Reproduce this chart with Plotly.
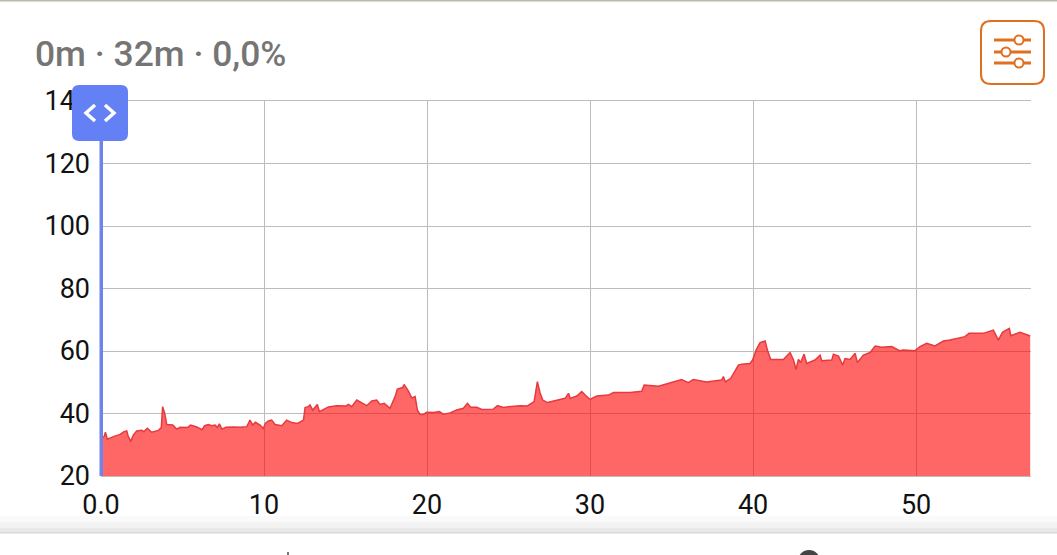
import plotly.graph_objects as go

# minutes / value
minutes = [0.0, 0.19, 0.27, 0.39, 0.76, 1.17, 1.41, 1.58, 1.66, 1.82, 1.98, 2.19, 2.5, 2.64, 2.84, 3.11,
           3.52, 3.7, 3.78, 3.91, 4.03, 4.4, 4.64, 4.85, 5.3, 5.5, 5.87, 6.2, 6.36, 6.59, 6.79, 7.0,
           7.14, 7.26, 7.42, 7.67, 8.12, 8.53, 8.94, 9.14, 9.31, 9.47, 9.76, 9.96, 10.08, 10.27, 10.47,
           10.68, 11.09, 11.39, 11.7, 12.05, 12.42, 12.52, 12.72, 12.82, 12.99, 13.27, 13.4, 13.64,
           13.95, 14.46, 15.03, 15.18, 15.38, 15.69, 15.99, 16.3, 16.61, 16.91, 17.12, 17.37, 17.73,
           18.04, 18.18, 18.51, 18.59, 18.86, 19.06, 19.27, 19.41, 19.57, 19.78, 19.98, 20.39, 20.76,
           21.0, 21.41, 21.82, 22.23, 22.48, 22.68, 23.05, 23.36, 24.07, 24.32, 24.69, 24.99, 25.71,
           26.16, 26.57, 26.77, 26.94, 27.1, 27.39, 27.96, 28.47, 28.68, 28.78, 29.19, 29.49, 29.7,
           30.0, 30.41, 31.13, 31.44, 32.46, 33.17, 33.32, 34.2, 34.9, 35.62, 36.03, 36.33, 37.15,
           37.77, 38.07, 38.18, 38.3, 38.63, 38.89, 39.1, 39.3, 39.81, 39.97, 40.2, 40.43, 40.74,
           40.88, 41.08, 41.86, 42.27, 42.48, 42.64, 42.78, 42.92, 43.13, 43.29, 43.8, 44.11, 44.21,
           44.83, 44.93, 45.24, 45.5, 45.64, 45.95, 46.26, 46.4, 46.77, 47.18, 47.49, 47.89, 48.51,
           48.98, 49.22, 49.94, 50.24, 50.65, 51.16, 51.68, 52.08, 53.0, 53.25, 54.13, 54.74, 55.05,
           55.3, 55.72, 55.81, 56.38, 57.0]
values = [32.0, 32.6, 34.0, 31.8, 32.6, 33.3, 34.2, 34.4, 32.9, 31.0, 33.1, 34.4, 34.6, 34.2, 35.25, 34.0,
          34.6, 35.5, 42.2, 40.0, 36.5, 36.3, 35.0, 35.6, 35.5, 36.3, 35.7, 34.8, 36.1, 36.5, 36.1, 36.3,
          35.5, 36.7, 35.0, 35.6, 35.7, 35.6, 35.8, 37.9, 36.3, 37.2, 36.3, 35.2, 36.8, 37.6, 37.9,
          36.5, 36.1, 37.9, 37.1, 36.8, 37.9, 41.9, 42.2, 42.7, 41.1, 42.9, 40.6, 41.3,
          42.1, 42.5, 42.4, 42.9, 42.2, 44.3, 43.3, 42.5, 44.0, 44.3, 42.9, 43.25, 41.65,
          45.4, 47.8, 48.3, 49.3, 47.2, 45.0, 45.4, 41.1, 39.7, 39.7, 40.4, 40.3, 40.6,
          39.8, 40.2, 41.1, 41.65, 43.25, 42.0, 42.0, 41.3, 41.4, 42.5, 41.9, 42.2, 42.5,
          42.4, 43.8, 50.2, 46.45, 44.3, 43.5, 44.3, 44.85, 46.45, 44.85, 45.6, 47.0, 45.9,
          44.5, 45.6, 45.9, 46.7, 46.7, 47.1, 49.1, 48.7, 49.9, 50.9, 49.9, 50.9, 50.1,
          50.4, 50.7, 51.8, 50.1, 51.25, 53.4, 55.5, 55.8, 56.0, 57.1, 60.5, 62.7, 63.2,
          60.3, 57.3, 57.3, 59.5, 57.1, 54.1, 57.3, 56.3, 59.0, 56.0, 57.1, 58.7, 56.9,
          57.1, 59.0, 58.4, 55.5, 57.6, 57.3, 59.25, 56.3, 58.7, 59.5, 61.6, 61.2, 61.4,
          60.1, 60.3, 60.1, 61.4, 62.45, 61.6, 63.2, 63.5, 64.6, 65.65, 65.65, 66.7, 63.5,
          66.0, 67.25, 64.9, 66.0, 64.8]

x_ticks = [0, 10, 20, 30, 40, 50]
x_labels = ['0.0', '10', '20', '30', '40', '50']
y_ticks = [20, 40, 60, 80, 100, 120, 140]
header = '0m · 32m · 0,0%'

W, H = 1057, 555
LEFT, RIGHT, TOP, BOTTOM = 101, 1031, 101, 476


# paper coordinates count from the plot area, these take page pixels
def px(x):
    return (x - LEFT) / (RIGHT - LEFT)


def py(y):
    return (BOTTOM - y) / (BOTTOM - TOP)


def rect(x0, y0, x1, y1, color, layer='above'):
    return dict(type='rect', xref='paper', yref='paper', x0=px(x0), x1=px(x1), y0=py(y0), y1=py(y1),
                fillcolor=color, line_width=0, layer=layer)


def path(points, color, width):
    d = 'M ' + ' L '.join(f'{px(a):.5f},{py(b):.5f}' for a, b in points)
    return dict(type='path', xref='paper', yref='paper', path=d, line=dict(color=color, width=width), layer='above')


def round_box(x0, y0, x1, y1, r, fill, line_color, line_width):
    d = (f'M {px(x0 + r)},{py(y0)} L {px(x1 - r)},{py(y0)} Q {px(x1)},{py(y0)} {px(x1)},{py(y0 + r)} '
         f'L {px(x1)},{py(y1 - r)} Q {px(x1)},{py(y1)} {px(x1 - r)},{py(y1)} '
         f'L {px(x0 + r)},{py(y1)} Q {px(x0)},{py(y1)} {px(x0)},{py(y1 - r)} '
         f'L {px(x0)},{py(y0 + r)} Q {px(x0)},{py(y0)} {px(x0 + r)},{py(y0)} Z')
    return dict(type='path', xref='paper', yref='paper', path=d, fillcolor=fill,
                line=dict(color=line_color, width=line_width), layer='above')


def knob(cx, cy):
    return dict(type='circle', xref='paper', yref='paper', x0=px(cx - 4.5), x1=px(cx + 4.5),
                y0=py(cy + 4.5), y1=py(cy - 4.5), fillcolor='white',
                line=dict(color='#e0701f', width=2), layer='above')


fig = go.Figure()
fig.add_trace(go.Scatter(x=minutes, y=values, mode='lines', fill='tozeroy',
                         fillcolor='rgba(255,0,0,0.6)',
                         line=dict(color='#e63a3e', width=1.5),
                         showlegend=False, hoverinfo='skip'))

shapes = [
    # top strip and the grey band under the chart
    rect(0, 0, W, 1.5, '#b7bda6'),
    rect(0, 516, W, 522, '#fafafa'),
    rect(0, 522, W, 528, '#f3f3f3'),
    rect(0, 528, W, 532, '#e9e9e9'),
    rect(0, 532, W, 533.5, '#d8d8d8'),
    dict(type='circle', xref='paper', yref='paper', x0=px(798), x1=px(820), y0=py(572), y1=py(550),
         fillcolor='#444444', line_width=0, layer='above'),
    rect(287, 552, 289, 555, '#777777'),
    # handle
    rect(99.5, 135, 103, 476, '#6f84e8'),
    round_box(72, 85, 128, 141, 7, '#6380f5', '#6380f5', 0),
    path([(95, 105), (86, 113), (95, 121)], 'white', 3.5),
    path([(105, 105), (114, 113), (105, 121)], 'white', 3.5),
    # settings button
    round_box(981, 21, 1044, 84, 10, 'white', '#e0701f', 2),
    path([(994, 40), (1031, 40)], '#e0701f', 3),
    path([(994, 52), (1031, 52)], '#e0701f', 3),
    path([(994, 63), (1031, 63)], '#e0701f', 3),
    knob(1019, 40), knob(1006, 52), knob(1019, 63),
]

fig.update_layout(
    width=W, height=H,
    margin=dict(l=LEFT, r=W - RIGHT, t=TOP, b=H - BOTTOM, pad=0),
    paper_bgcolor='white', plot_bgcolor='white',
    font=dict(family='Roboto', color='#111111', size=27),
    showlegend=False,
    shapes=shapes,
    annotations=[dict(text=header, xref='paper', yref='paper', x=px(33), y=py(54),
                      xanchor='left', yanchor='middle', showarrow=False,
                      font=dict(family='Roboto', size=35.4, color='#757575', weight=500))],
)
fig.update_xaxes(range=[0, 57.05], tickmode='array', tickvals=x_ticks, ticktext=x_labels,
                 showgrid=True, gridcolor='#bcbcbc', gridwidth=1, zeroline=False,
                 showline=True, mirror=True, linecolor='#bcbcbc', ticks='', tickfont=dict(size=27),
                 ticklabelstandoff=5)
fig.update_yaxes(range=[20, 140], tickmode='array', tickvals=y_ticks,
                 showgrid=True, gridcolor='#bcbcbc', gridwidth=1, zeroline=False,
                 showline=False, ticks='', tickfont=dict(size=27), ticklabelstandoff=10)

fig.write_html("out.html", config=dict(displayModeBar=False),
               post_script="document.body.style.margin='0';")
